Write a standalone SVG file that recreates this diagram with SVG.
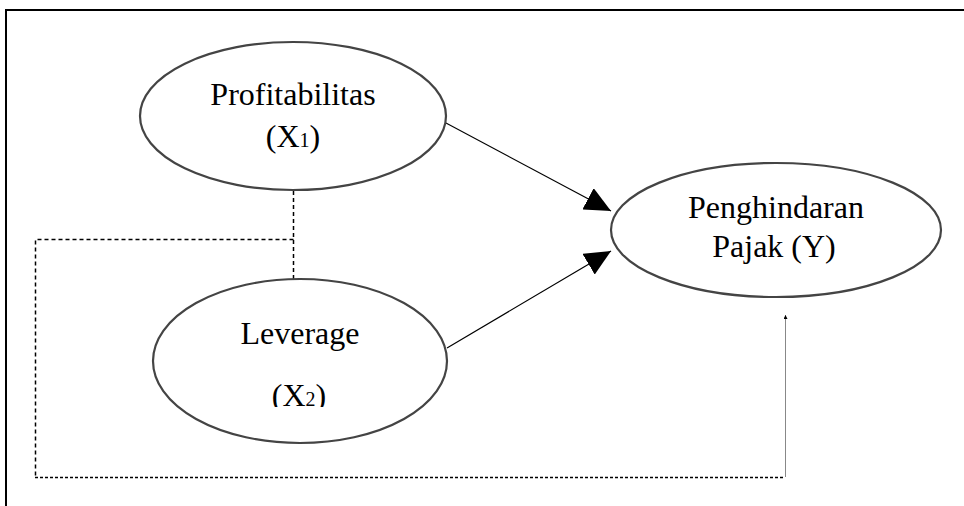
<svg xmlns="http://www.w3.org/2000/svg" width="964" height="506" viewBox="0 0 964 506">
<defs>
<style>
.node{fill:#fff;stroke:#444;stroke-width:2.2}
.lbl{font-family:"Liberation Serif","Times New Roman",serif;font-size:32px;fill:#000;text-anchor:middle}
.sub{font-size:20px}
.arr{stroke:#000;stroke-width:1.2;fill:none}
.dash{stroke:#000;stroke-width:1.5;fill:none;stroke-dasharray:4 3}
</style>
<marker id="head" viewBox="0 0 26 24" refX="26" refY="12" markerWidth="26" markerHeight="24" markerUnits="userSpaceOnUse" orient="auto">
<path d="M0,0 L26,12 L0,24 Z" fill="#000"/>
</marker>
<marker id="small" viewBox="0 0 4 4" refX="4" refY="2" markerWidth="4" markerHeight="4" markerUnits="userSpaceOnUse" orient="auto">
<path d="M0,0 L4,2 L0,4 Z" fill="#000"/>
</marker>
<clipPath id="clipX2"><rect x="150" y="360" width="300" height="47"/></clipPath>
</defs>
<rect x="0" y="0" width="964" height="506" fill="#fff"/>
<path d="M6,506 L6,10 L964,10" fill="none" stroke="#000" stroke-width="2"/>
<g id="connectors">
<line class="arr" x1="446" y1="123" x2="611" y2="211" marker-end="url(#head)"/>
<line class="arr" x1="447" y1="348" x2="611" y2="251" marker-end="url(#head)"/>
<line class="dash" x1="293.5" y1="191" x2="293.5" y2="280"/>
<polyline class="dash" points="293.5,239.5 35.5,239.5 35.5,477.5"/>
<line x1="35" y1="477.5" x2="785" y2="477.5" stroke="#000" stroke-width="1.5" stroke-dasharray="3 2"/>
<line x1="785.5" y1="477" x2="785.5" y2="315" stroke="#888" stroke-width="1" marker-end="url(#small)"/>
</g>
<g id="profitabilitas">
<ellipse class="node" cx="293" cy="116" rx="153" ry="74"/>
<text class="lbl" x="293" y="105">Profitabilitas</text>
<text class="lbl" x="293" y="147">(X<tspan class="sub">1</tspan>)</text>
</g>
<g id="leverage">
<ellipse class="node" cx="300" cy="361" rx="147" ry="82"/>
<text class="lbl" x="300" y="344">Leverage</text>
<text class="lbl" x="299" y="406" clip-path="url(#clipX2)">(X<tspan class="sub">2</tspan>)</text>
</g>
<g id="penghindaran">
<ellipse class="node" cx="776" cy="230" rx="165" ry="67"/>
<text class="lbl" x="776" y="218">Penghindaran</text>
<text class="lbl" x="774" y="257">Pajak (Y)</text>
</g>
</svg>
